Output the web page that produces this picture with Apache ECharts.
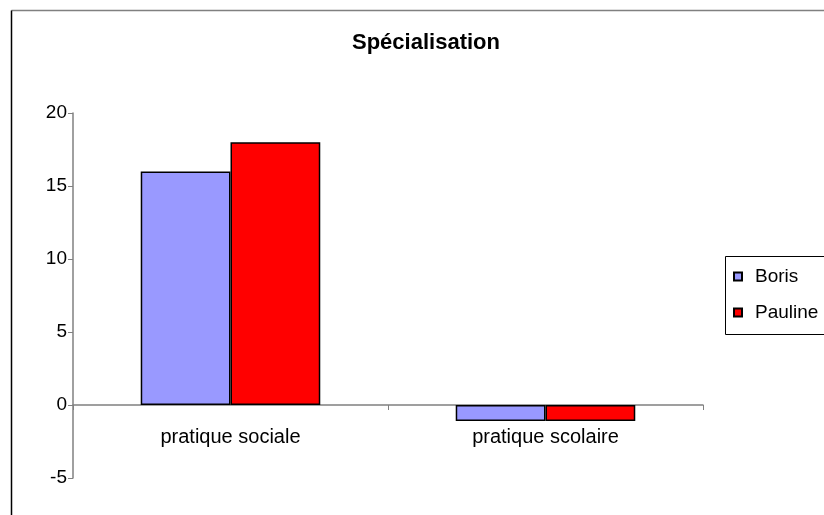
<!DOCTYPE html>
<html>
<head>
<meta charset="utf-8">
<script src="https://cdn.jsdelivr.net/npm/echarts@6/dist/echarts.min.js"></script>
<style>
  html, body { margin: 0; padding: 0; background: #fff; }
  #chart { width: 824px; height: 515px; }
</style>
</head>
<body>
<div id="chart"></div>
<script>
const categories = ['pratique sociale', 'pratique scolaire']
const boris = [16, -1.1]
const pauline = [18, -1.1]
const yTicks = { min: -5, max: 20, interval: 5 }

const chart = echarts.init(document.getElementById('chart'))

const font = '"Liberation Sans", Arial, sans-serif'

chart.setOption({
  animation: false,
  backgroundColor: '#fff',
  textStyle: { fontFamily: font },
  title: {
    text: 'Spécialisation',
    left: 347,
    top: 27,
    textStyle: { fontFamily: font, fontSize: 22, fontWeight: 'bold', color: '#000' }
  },
  graphic: [
    // chart frame: top edge grey, left edge black
    {
      type: 'line',
      silent: true,
      shape: { x1: 11.5, y1: 10.5, x2: 830, y2: 10.5 },
      style: { stroke: '#808080', lineWidth: 1.5 }
    },
    {
      type: 'line',
      silent: true,
      shape: { x1: 11.5, y1: 10.5, x2: 11.5, y2: 520 },
      style: { stroke: '#000', lineWidth: 1.5 }
    },
    {
      type: 'rect',
      silent: true,
      shape: { x: 725.5, y: 256.5, width: 200, height: 78 },
      style: { fill: 'none', stroke: '#000', lineWidth: 1 }
    }
  ],
  legend: {
    orient: 'vertical',
    left: 733,
    top: 267,
    padding: 0,
    icon: 'rect',
    itemWidth: 8,
    itemHeight: 8,
    itemGap: 17,
    textStyle: { fontFamily: font, fontSize: 19, color: '#000', padding: [0, 0, 0, 8] },
    data: ['Boris', 'Pauline']
  },
  grid: {
    left: 73,
    right: 121,
    top: 113,
    bottom: 37,
    containLabel: false
  },
  xAxis: {
    type: 'category',
    data: categories,
    axisLine: { lineStyle: { color: '#808080', width: 1.5 } },
    axisTick: { show: true, length: 5, inside: false, lineStyle: { color: '#808080' } },
    axisLabel: { fontFamily: font, fontSize: 20, color: '#000', margin: -51 }
  },
  yAxis: {
    type: 'value',
    min: yTicks.min,
    max: yTicks.max,
    interval: yTicks.interval,
    splitLine: { show: false },
    axisLine: { show: true, lineStyle: { color: '#808080', width: 1.5 } },
    axisTick: { show: true, length: 5, lineStyle: { color: '#808080' } },
    axisLabel: { fontFamily: font, fontSize: 19, color: '#000', margin: 6 }
  },
  series: [
    {
      name: 'Boris',
      type: 'bar',
      data: boris,
      barGap: '0%',
      barCategoryGap: '43%',
      itemStyle: { color: '#9999FF', borderColor: '#000', borderWidth: 1.5 }
    },
    {
      name: 'Pauline',
      type: 'bar',
      data: pauline,
      barGap: '0%',
      barCategoryGap: '43%',
      itemStyle: { color: '#FF0000', borderColor: '#000', borderWidth: 1.5 }
    }
  ]
})
</script>
</body>
</html>
